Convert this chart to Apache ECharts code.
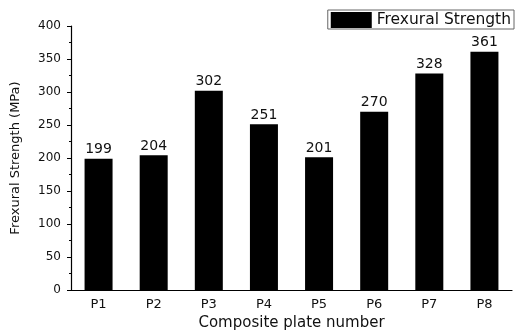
<!DOCTYPE html>
<html><head><meta charset="utf-8">
<script src="https://cdn.jsdelivr.net/npm/echarts@6/dist/echarts.min.js"></script>
<style>html,body{margin:0;padding:0;background:#fff}#c{width:520px;height:331px}</style>
</head><body><div id="c"></div>
<script>
var categories = ['P1','P2','P3','P4','P5','P6','P7','P8'];
var strengthValues = [199, 204, 302, 251, 201, 270, 328, 361];
var seriesName = 'Frexural Strength';
var yTicks = [0, 50, 100, 150, 200, 250, 300, 350, 400];

var font = 'DejaVu Sans, Verdana, sans-serif';
var chart = echarts.init(document.getElementById('c'), null, {renderer: 'canvas'});
chart.setOption({
  animation: false,
  backgroundColor: '#fff',
  textStyle: {fontFamily: font},
  grid: {left: 71, right: 8, top: 26, bottom: 41, containLabel: false, outerBoundsMode: 'none'},
  legend: {
    data: [{name: seriesName, icon: 'rect'}], right: 6, top: 10,
    borderColor: '#666', borderWidth: 1, padding: [2, 3, 1, 3],
    itemWidth: 41, itemHeight: 16, itemGap: 5,
    textStyle: {fontSize: 15.5, color: '#111', fontFamily: font, padding: [0, 0, 0, 0]},
    itemStyle: {borderWidth: 0}
  },
  xAxis: [{
    type: 'category', data: categories,
    name: 'Composite plate number', nameLocation: 'middle', nameGap: 24,
    nameTextStyle: {fontSize: 15, color: '#111', fontFamily: font},
    axisLine: {lineStyle: {color: '#000', width: 1.2}},
    axisTick: {alignWithLabel: true, length: 4, lineStyle: {color: '#000'}},
    axisLabel: {fontSize: 13, color: '#111', margin: 8, fontFamily: font}
  }, {
    type: 'category', data: categories, position: 'bottom',
    axisLine: {show: false},
    axisTick: {length: 2, lineStyle: {color: '#000'}},
    axisLabel: {show: false}
  }],
  yAxis: {
    type: 'value', min: yTicks[0], max: yTicks[yTicks.length - 1], interval: 50,
    name: 'Frexural Strength (MPa)', nameLocation: 'middle', nameGap: 49,
    nameTextStyle: {fontSize: 13, color: '#111', fontFamily: font},
    axisLine: {show: true, lineStyle: {color: '#000', width: 1.2}},
    axisTick: {show: true, length: 4, lineStyle: {color: '#000'}},
    minorTick: {show: true, splitNumber: 2, length: 2, lineStyle: {color: '#000'}},
    splitLine: {show: false},
    axisLabel: {fontSize: 12, color: '#111', margin: 10, fontFamily: font}
  },
  series: [{
    name: seriesName, type: 'bar', data: strengthValues, barWidth: 28,
    itemStyle: {color: '#000'},
    label: {show: true, position: 'top', distance: 2, fontSize: 14, color: '#111', fontFamily: font}
  }]
});
</script></body></html>
